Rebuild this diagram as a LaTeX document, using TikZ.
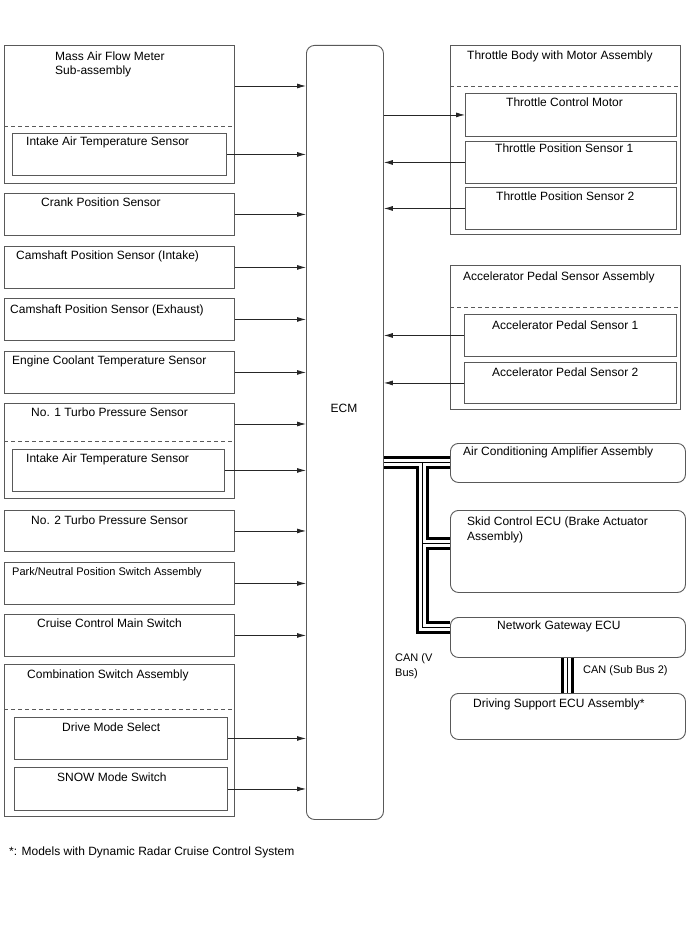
\documentclass[tikz,border=0pt]{standalone}
\usepackage{fontspec}
\setmainfont{Liberation Sans}
\usetikzlibrary{arrows.meta}
\tikzstyle{part} = [
    rectangle,
    anchor=north west,
    inner sep=0pt,
    draw=black!65,
    line width=0.9pt
]
\tikzstyle{ecu} = [
    part,
    rounded corners=8pt
]
\tikzstyle{txt} = [
    anchor=base west,
    inner sep=0pt,
    font=\fontsize{12}{14}\selectfont
]
\tikzstyle{sep} = [
    draw=black!65,
    line width=0.9pt,
    dash pattern=on 4pt off 3pt
]
\tikzstyle{arrow} = [black!85, line width=0.8pt, -{Latex[length=9pt,width=5pt]}]
\tikzstyle{can} = [
    line width=1pt,
    preaction={draw, line width=13pt},
    preaction={draw, white, line width=7pt}
]

\begin{document}
\begin{tikzpicture}[x=1pt, y=-1pt]
\useasboundingbox (0,0) rectangle (688,949);

% ECM
\node (ecm) [ecu, minimum width=77pt, minimum height=774pt] at (306,45) {};
\node (ecm-t) [txt, anchor=base] at (344,412) {ECM};

% sensors on the left
\node (maf) [part, minimum width=230pt, minimum height=138pt] at (4,45) {};
\node (maf-t) [txt] at (55,61) {Mass Air Flow Meter};
\node (maf-t2) [txt] at (55,75) {Sub-assembly};
\draw [sep] ([yshift=-81pt]maf.north west) -- ([yshift=-81pt]maf.north east);
\node (maf-iat) [part, minimum width=214pt, minimum height=42pt] at (12,133) {};
\node (maf-iat-t) [txt] at (26,146) {Intake Air Temperature Sensor};

\node (crank) [part, minimum width=230pt, minimum height=42pt] at (4,193) {};
\node (crank-t) [txt] at (41,207) {Crank Position Sensor};

\node (camin) [part, minimum width=230pt, minimum height=42pt] at (4,246) {};
\node (camin-t) [txt] at (16,260) {Camshaft Position Sensor (Intake)};

\node (camex) [part, minimum width=230pt, minimum height=42pt] at (4,298) {};
\node (camex-t) [txt] at (10,313) {Camshaft Position Sensor (Exhaust)};

\node (ect) [part, minimum width=230pt, minimum height=42pt] at (4,351) {};
\node (ect-t) [txt] at (12,364) {Engine Coolant Temperature Sensor};

\node (turbo1) [part, minimum width=230pt, minimum height=95pt] at (4,403) {};
\node (turbo1-t) [txt] at (31,416) {No. 1 Turbo Pressure Sensor};
\draw [sep] ([yshift=-38pt]turbo1.north west) -- ([yshift=-38pt]turbo1.north east);
\node (turbo1-iat) [part, minimum width=212pt, minimum height=42pt] at (12,449) {};
\node (turbo1-iat-t) [txt] at (26,462) {Intake Air Temperature Sensor};

\node (turbo2) [part, minimum width=230pt, minimum height=41pt] at (4,510) {};
\node (turbo2-t) [txt] at (31,524) {No. 2 Turbo Pressure Sensor};

\node (pnp) [part, minimum width=230pt, minimum height=42pt] at (4,562) {};
\node (pnp-t) [txt, font=\fontsize{11}{13}\selectfont] at (12,575) {Park/Neutral Position Switch Assembly};

\node (ccms) [part, minimum width=230pt, minimum height=42pt] at (4,614) {};
\node (ccms-t) [txt] at (37,627) {Cruise Control Main Switch};

\node (comb) [part, minimum width=230pt, minimum height=152pt] at (4,664) {};
\node (comb-t) [txt] at (27,678) {Combination Switch Assembly};
\draw [sep] ([yshift=-45pt]comb.north west) -- ([yshift=-45pt]comb.north east);
\node (dms) [part, minimum width=213pt, minimum height=42pt] at (14,717) {};
\node (dms-t) [txt] at (62,731) {Drive Mode Select};
\node (snow) [part, minimum width=213pt, minimum height=43pt] at (14,767) {};
\node (snow-t) [txt] at (57,781) {SNOW Mode Switch};

% actuators and sensors on the right
\node (tb) [part, minimum width=230pt, minimum height=189pt] at (450,45) {};
\node (tb-t) [txt] at (467,60) {Throttle Body with Motor Assembly};
\draw [sep] ([yshift=-41pt]tb.north west) -- ([yshift=-41pt]tb.north east);
\node (tcm) [part, minimum width=211pt, minimum height=43pt] at (465,93) {};
\node (tcm-t) [txt] at (506,107) {Throttle Control Motor};
\node (tps1) [part, minimum width=211pt, minimum height=42pt] at (465,141) {};
\node (tps1-t) [txt] at (495,153) {Throttle Position Sensor 1};
\node (tps2) [part, minimum width=211pt, minimum height=42pt] at (465,187) {};
\node (tps2-t) [txt] at (496,201) {Throttle Position Sensor 2};

\node (aps) [part, minimum width=230pt, minimum height=144pt] at (450,265) {};
\node (aps-t) [txt] at (463,280) {Accelerator Pedal Sensor Assembly};
\draw [sep] ([yshift=-42pt]aps.north west) -- ([yshift=-42pt]aps.north east);
\node (aps1) [part, minimum width=212pt, minimum height=42pt] at (464,314) {};
\node (aps1-t) [txt] at (492,329) {Accelerator Pedal Sensor 1};
\node (aps2) [part, minimum width=212pt, minimum height=41pt] at (464,362) {};
\node (aps2-t) [txt] at (492,376) {Accelerator Pedal Sensor 2};

% ECUs on the CAN bus
\node (ac) [ecu, minimum width=235pt, minimum height=39pt] at (450,443) {};
\node (ac-t) [txt] at (463,455) {Air Conditioning Amplifier Assembly};
\node (skid) [ecu, minimum width=235pt, minimum height=82pt] at (450,510) {};
\node (skid-t) [txt] at (467,525) {Skid Control ECU (Brake Actuator};
\node (skid-t2) [txt] at (467,540) {Assembly)};
\node (ng) [ecu, minimum width=235pt, minimum height=40pt] at (450,617) {};
\node (ng-t) [txt] at (497,629) {Network Gateway ECU};
\node (dsecu) [ecu, minimum width=235pt, minimum height=46pt] at (450,693) {};
\node (dsecu-t) [txt] at (473,707) {Driving Support ECU Assembly*};

% inputs
\coordinate (maf-out) at ([yshift=-41pt]maf.north east);
\coordinate (turbo1-out) at ([yshift=-21pt]turbo1.north east);
\draw [arrow] (maf-out) -- (maf-out -| ecm.west);
\draw [arrow] (maf-iat.east) -- (maf-iat.east -| ecm.west);
\draw [arrow] (crank.east) -- (crank.east -| ecm.west);
\draw [arrow] (camin.east) -- (camin.east -| ecm.west);
\draw [arrow] (camex.east) -- (camex.east -| ecm.west);
\draw [arrow] (ect.east) -- (ect.east -| ecm.west);
\draw [arrow] (turbo1-out) -- (turbo1-out -| ecm.west);
\draw [arrow] (turbo1-iat.east) -- (turbo1-iat.east -| ecm.west);
\draw [arrow] (turbo2.east) -- (turbo2.east -| ecm.west);
\draw [arrow] (pnp.east) -- (pnp.east -| ecm.west);
\draw [arrow] (ccms.east) -- (ccms.east -| ecm.west);
\draw [arrow] (dms.east) -- (dms.east -| ecm.west);
\draw [arrow] (snow.east) -- (snow.east -| ecm.west);

\draw [arrow] (tcm.west -| ecm.east) -- (tcm.west);
\draw [arrow] (tps1.west) -- (tps1.west -| ecm.east);
\draw [arrow] (tps2.west) -- (tps2.west -| ecm.east);
\draw [arrow] (aps1.west) -- (aps1.west -| ecm.east);
\draw [arrow] (aps2.west) -- (aps2.west -| ecm.east);

% CAN
\coordinate (can-top) at (422,462);
\coordinate (can-skid) at (422,543);
\coordinate (can-ng) at (422,627);
\draw [can] (ecm.east |- can-top) -- (ac.west |- can-top)
    (can-top) -- (can-ng) -- (ng.west |- can-ng)
    (can-skid) -- (skid.west |- can-skid);
\draw [can] (ng.south) -- (dsecu.north);
\node (can-v) [txt, font=\fontsize{11}{13}\selectfont] at (395,661) {CAN (V};
\node (can-v2) [txt, font=\fontsize{11}{13}\selectfont] at (395,676) {Bus)};
\node (can-sub) [txt, font=\fontsize{11}{13}\selectfont] at (583,673) {CAN (Sub Bus 2)};

\node (note) [txt] at (9,855) {*: Models with Dynamic Radar Cruise Control System};

\end{tikzpicture}
\end{document}
